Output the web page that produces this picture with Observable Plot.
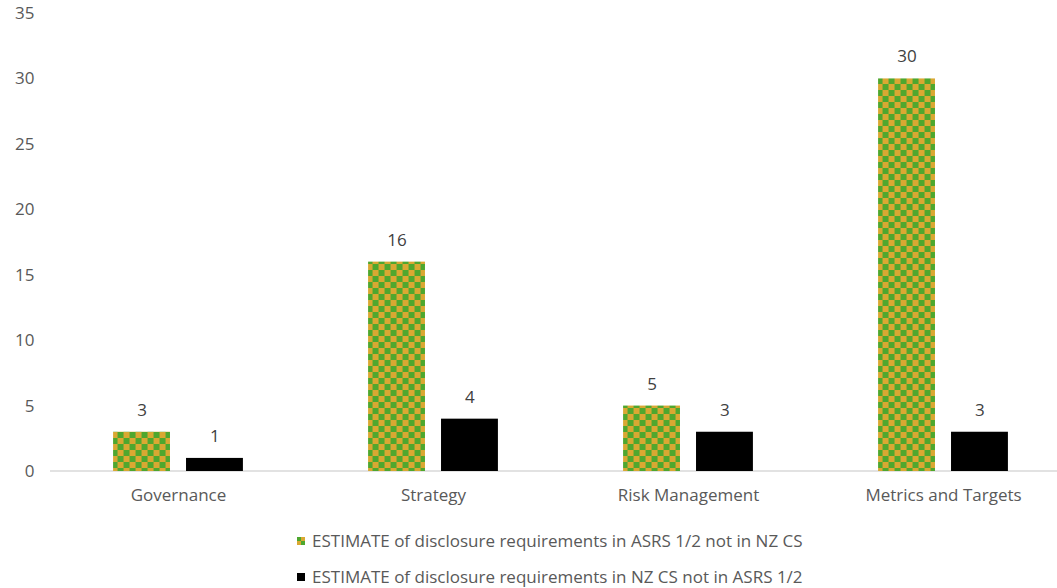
<!DOCTYPE html>
<html>
<head>
<meta charset="utf-8">
<script src="https://cdn.jsdelivr.net/npm/d3@7"></script>
<script src="https://cdn.jsdelivr.net/npm/@observablehq/plot@0.6"></script>
<style>
  html, body { margin: 0; padding: 0; background: #fff; }
  body { width: 1057px; height: 588px; position: relative; overflow: hidden; font-family: "Open Sans", sans-serif; }
  #chart { position: absolute; left: 0; top: 0; }
  .legend { position: absolute; left: 297px; font-size: 17px; line-height: 20px; color: #595959; display: flex; align-items: center; white-space: nowrap; }
  .legend .sw { width: 8px; height: 8px; margin-right: 7px; }
</style>
</head>
<body>
<div id="chart"></div>
<div class="legend" style="top:531px"><svg class="sw" width="8" height="8"><rect x="0" y="0" width="4" height="4" fill="#4ea72e"/><rect x="4" y="0" width="4" height="4" fill="#d9a832"/><rect x="0" y="4" width="4" height="4" fill="#d9a832"/><rect x="4" y="4" width="4" height="4" fill="#4ea72e"/></svg><span id="l1"></span></div>
<div class="legend" style="top:567px"><svg class="sw" width="8" height="8"><rect width="8" height="8" fill="#000"/></svg><span id="l2"></span></div>
<script>
const categories = ["Governance", "Strategy", "Risk Management", "Metrics and Targets"];
const seriesNames = [
  "ESTIMATE of disclosure requirements in ASRS 1/2 not in NZ CS",
  "ESTIMATE of disclosure requirements in NZ CS not in ASRS 1/2"
];
const asrsNotNz = [3, 16, 5, 30];
const nzNotAsrs = [1, 4, 3, 3];
const yTicks = [0, 5, 10, 15, 20, 25, 30, 35];

const data = [];
categories.forEach((c, i) => {
  data.push({category: c, series: seriesNames[0], value: asrsNotNz[i]});
  data.push({category: c, series: seriesNames[1], value: nzNotAsrs[i]});
});

document.getElementById("l1").textContent = seriesNames[0];
document.getElementById("l2").textContent = seriesNames[1];

const chart = Plot.plot({
  width: 1057,
  height: 510,
  marginLeft: 50.5,
  marginRight: -13.5,
  marginTop: 13,
  marginBottom: 39,
  style: {fontFamily: "'Open Sans', sans-serif", fontSize: "17px", color: "#595959", background: "#fff"},
  fx: {domain: categories, paddingInner: 0.365, paddingOuter: 0.1825, round: false, label: null},
  x: {domain: seriesNames, padding: 0.22, round: false, axis: null},
  y: {domain: [0, 35], label: null},
  color: {domain: seriesNames, range: ["url(#checker)", "#000000"]},
  marks: [
    Plot.axisY(yTicks, {tickSize: 0, tickPadding: 63, fontSize: 17, fill: "#595959", label: null}),
    Plot.axisFx({anchor: "bottom", tickSize: 0, tickPadding: 17, fontSize: 17, fill: "#595959", label: null}),
    Plot.barY(data, {fx: "category", x: "series", y: "value", fill: "series"}),
    Plot.text(data, {fx: "category", x: "series", y: "value", text: d => String(d.value), dy: -22, fill: "#404040", fontSize: 17})
  ]
});

const svg = d3.select(chart);
const defs = svg.insert("defs", ":first-child");
const pat = defs.append("pattern").attr("id", "checker").attr("patternUnits", "userSpaceOnUse")
  .attr("width", 12).attr("height", 12).attr("x", 113).attr("y", 0);
pat.append("rect").attr("width", 12).attr("height", 12).attr("fill", "#d9a832");
pat.append("rect").attr("x", 6).attr("y", 0).attr("width", 6).attr("height", 6).attr("fill", "#4ea72e");
pat.append("rect").attr("x", 0).attr("y", 6).attr("width", 6).attr("height", 6).attr("fill", "#4ea72e");

// baseline at y = 0 across the full plot width
const y0 = chart.scale("y").apply(0);
svg.insert("line", "defs + *")
  .attr("x1", 50).attr("x2", 1057).attr("y1", y0).attr("y2", y0)
  .attr("stroke", "#d9d9d9").attr("stroke-width", 1.5);

document.getElementById("chart").appendChild(chart);
</script>
</body>
</html>
